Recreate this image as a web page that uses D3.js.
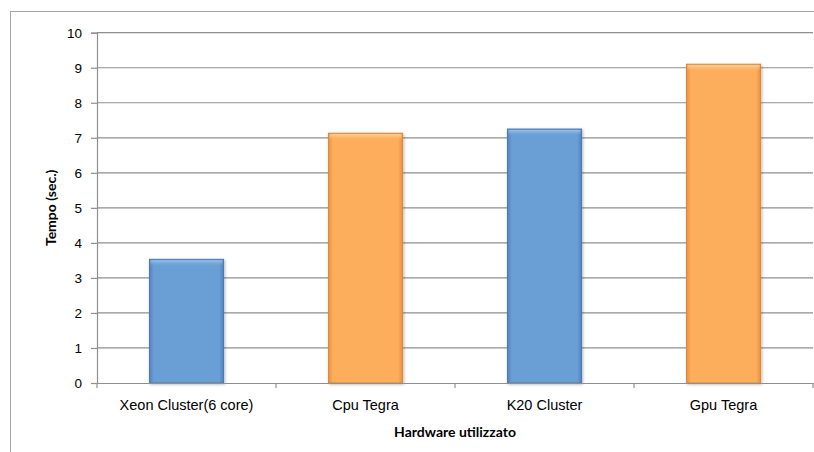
<!DOCTYPE html>
<html>
<head>
<meta charset="utf-8">
<script src="https://cdn.jsdelivr.net/npm/d3@7"></script>
<style>
  html, body { margin: 0; padding: 0; background: #fff; }
  svg { display: block; font-family: Lato, "Open Sans", sans-serif; }
</style>
</head>
<body>
<svg id="chart" width="814" height="452"></svg>
<script>
// Execution time per hardware platform
const categories = ["Xeon Cluster(6 core)", "Cpu Tegra", "K20 Cluster", "Gpu Tegra"];
const times = [3.53, 7.13, 7.25, 9.1];
const barKinds = ["blue", "orange", "blue", "orange"];
const yTicks = [0, 1, 2, 3, 4, 5, 6, 7, 8, 9, 10];
const yTitle = "Tempo (sec.)";
const xTitle = "Hardware utilizzato";

const svg = d3.select("#chart");
const W = 814, H = 452;
const m = { left: 97, right: 1, top: 32.7, bottom: 69 };

// Outer chart frame (extends past the right/bottom edges)
svg.append("rect")
  .attr("x", 10.5).attr("y", 11.5)
  .attr("width", W + 10).attr("height", H + 10)
  .attr("fill", "none").attr("stroke", "#a6a6a6").attr("stroke-width", 1);

const x = d3.scaleBand().domain(categories)
  .range([m.left, W - m.right]).paddingInner(0.586).paddingOuter(0.293);
const y = d3.scaleLinear().domain([0, 10]).range([H - m.bottom, m.top]);

// Gradients for the bevelled bars
const defs = svg.append("defs");
const palettes = {
  blue:   { mid: "#6a9fd6", edge: "#4f83bf", top: "#9dc1ea", line: "#4a7bb3" },
  orange: { mid: "#fdae5c", edge: "#e8903b", top: "#ffd29c", line: "#d5893f" }
};
Object.entries(palettes).forEach(([k, p]) => {
  const g = defs.append("linearGradient").attr("id", "h-" + k)
    .attr("x1", "0").attr("x2", "1").attr("y1", "0").attr("y2", "0");
  g.append("stop").attr("offset", "0").attr("stop-color", p.edge);
  g.append("stop").attr("offset", "0.06").attr("stop-color", p.mid);
  g.append("stop").attr("offset", "0.94").attr("stop-color", p.mid);
  g.append("stop").attr("offset", "1").attr("stop-color", p.edge);
  const t = defs.append("linearGradient").attr("id", "t-" + k)
    .attr("x1", "0").attr("x2", "0").attr("y1", "0").attr("y2", "1");
  t.append("stop").attr("offset", "0").attr("stop-color", p.top).attr("stop-opacity", 1);
  t.append("stop").attr("offset", "1").attr("stop-color", p.mid).attr("stop-opacity", 0);
});
const shadow = defs.append("filter").attr("id", "shadow")
  .attr("x", "-10%").attr("y", "-10%").attr("width", "130%").attr("height", "130%");
shadow.append("feGaussianBlur").attr("in", "SourceAlpha").attr("stdDeviation", 1.5);
shadow.append("feOffset").attr("dx", 1).attr("dy", 1).attr("result", "b");
shadow.append("feComponentTransfer").append("feFuncA").attr("type", "linear").attr("slope", 0.3);
const mg = shadow.append("feMerge");
mg.append("feMergeNode");
mg.append("feMergeNode").attr("in", "SourceGraphic");

// Horizontal gridlines
svg.append("g").selectAll("line").data(yTicks.slice(1)).join("line")
  .attr("x1", m.left).attr("x2", W - m.right)
  .attr("y1", d => y(d)).attr("y2", d => y(d))
  .attr("stroke", "#8f8f8f").attr("stroke-width", 1.2);

// Y axis
const yAxis = svg.append("g").attr("transform", `translate(${m.left},0)`)
  .call(d3.axisLeft(y).tickValues(yTicks).tickSize(6).tickPadding(9));
yAxis.select(".domain").attr("stroke", "#8f8f8f").attr("stroke-width", 1.2);
yAxis.selectAll(".tick line").attr("stroke", "#8f8f8f").attr("stroke-width", 1.2);
yAxis.selectAll(".tick text").attr("fill", "#000").style("font-size", "13.5px");

// Bars
const bars = svg.append("g").selectAll("g").data(categories).join("g")
  .attr("filter", "url(#shadow)");
bars.append("rect")
  .attr("x", d => x(d)).attr("width", x.bandwidth())
  .attr("y", (d, i) => y(times[i])).attr("height", (d, i) => y(0) - y(times[i]))
  .attr("fill", (d, i) => `url(#h-${barKinds[i]})`)
  .attr("stroke", (d, i) => palettes[barKinds[i]].line).attr("stroke-width", 1);
bars.append("rect")
  .attr("x", d => x(d) + 1).attr("width", x.bandwidth() - 2)
  .attr("y", (d, i) => y(times[i]) + 1).attr("height", 6)
  .attr("fill", (d, i) => `url(#t-${barKinds[i]})`);

// X axis
const band = x.step();
const xAxis = svg.append("g").attr("transform", `translate(0,${y(0)})`)
  .call(d3.axisBottom(x).tickSize(0).tickPadding(17));
xAxis.select(".domain").attr("stroke", "#8f8f8f").attr("stroke-width", 1.2);
xAxis.selectAll(".tick text").attr("fill", "#000").style("font-size", "14.5px");
svg.append("g").selectAll("line").data(d3.range(categories.length + 1)).join("line")
  .attr("x1", i => m.left + i * band).attr("x2", i => m.left + i * band)
  .attr("y1", y(0)).attr("y2", y(0) + 5)
  .attr("stroke", "#8f8f8f").attr("stroke-width", 1.2);

// Axis titles
svg.append("text")
  .attr("x", (m.left + W - m.right) / 2).attr("y", 437)
  .attr("text-anchor", "middle").style("font-size", "14px").style("font-weight", "bold")
  .text(xTitle);
svg.append("text")
  .attr("transform", `translate(56,${(y(0) + y(10)) / 2}) rotate(-90)`)
  .attr("text-anchor", "middle").style("font-size", "14px").style("font-weight", "bold")
  .text(yTitle);
</script>
</body>
</html>
